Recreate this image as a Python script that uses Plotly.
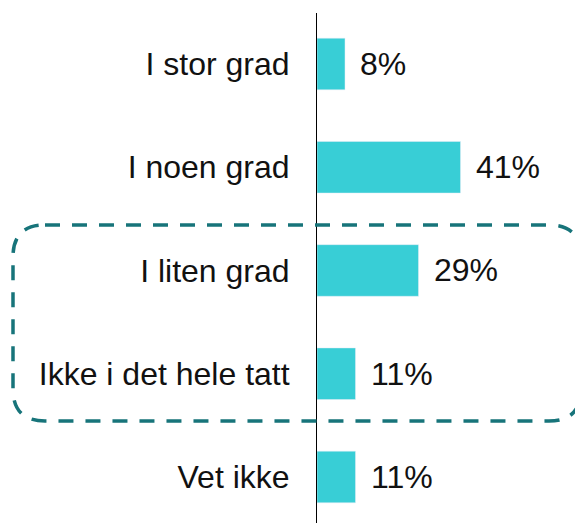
import plotly.graph_objects as go

categories = ["I stor grad", "I noen grad", "I liten grad", "Ikke i det hele tatt", "Vet ikke"]
values = [8, 41, 29, 11, 11]

BAR_COLOR = "#38CED6"
BOX_COLOR = "#17747A"
FONT = "Liberation Sans, Arial, sans-serif"

# page body has an 8px margin, so the figure is placed at (8, 8)
OFF = 8
W, H = 583 - OFF, 523 - OFF
ML, MT = 317 - OFF, 13 - OFF
PW, PH = W - ML, H - MT

fig = go.Figure(go.Bar(
    x=values, y=categories, orientation="h",
    marker_color=BAR_COLOR, width=0.5,
    hoverinfo="skip",
))

# value labels right of the bars
for c, v in zip(categories, values):
    fig.add_annotation(x=v, y=c, text=f"{v}%", showarrow=False,
                       xanchor="left", yanchor="middle", xshift=13,
                       font=dict(size=32, color="#111111", family=FONT))

# rounded dashed box around "I liten grad" / "Ikke i det hele tatt"
def px_x(p):
    return (p - OFF - ML) / PW

def px_y(p):
    return (H + OFF - p) / PH

x0, x1, y0, y1, r = 13, 581, 225, 421, 32
pts = [
    ("M", x0 + r, y0), ("L", x1 - r, y0), ("Q", x1, y0, x1, y0 + r),
    ("L", x1, y1 - r), ("Q", x1, y1, x1 - r, y1), ("L", x0 + r, y1),
    ("Q", x0, y1, x0, y1 - r), ("L", x0, y0 + r), ("Q", x0, y0, x0 + r, y0),
]
path = ""
for p in pts:
    cmd, coords = p[0], p[1:]
    xy = []
    for i in range(0, len(coords), 2):
        xy.append(f"{px_x(coords[i]):.5f},{px_y(coords[i + 1]):.5f}")
    path += cmd + " ".join(xy) + " "
path += "Z"
fig.add_shape(type="path", path=path, xref="paper", yref="paper",
              line=dict(color=BOX_COLOR, width=3.5, dash="15px,12px"),
              layer="above")

fig.update_layout(
    width=W, height=H,
    margin=dict(l=ML, r=0, t=MT, b=0),
    plot_bgcolor="white", paper_bgcolor="white",
    showlegend=False,
    font=dict(family=FONT, size=32, color="#111111"),
)
fig.update_xaxes(range=[0, PW / 3.5], visible=False)
fig.update_yaxes(range=[4.446, -0.494], showline=True, linecolor="black",
                 linewidth=1, showgrid=False, ticks="", ticklabelstandoff=20,
                 tickfont=dict(size=32, color="#111111", family=FONT))

fig.write_html("out.html")
